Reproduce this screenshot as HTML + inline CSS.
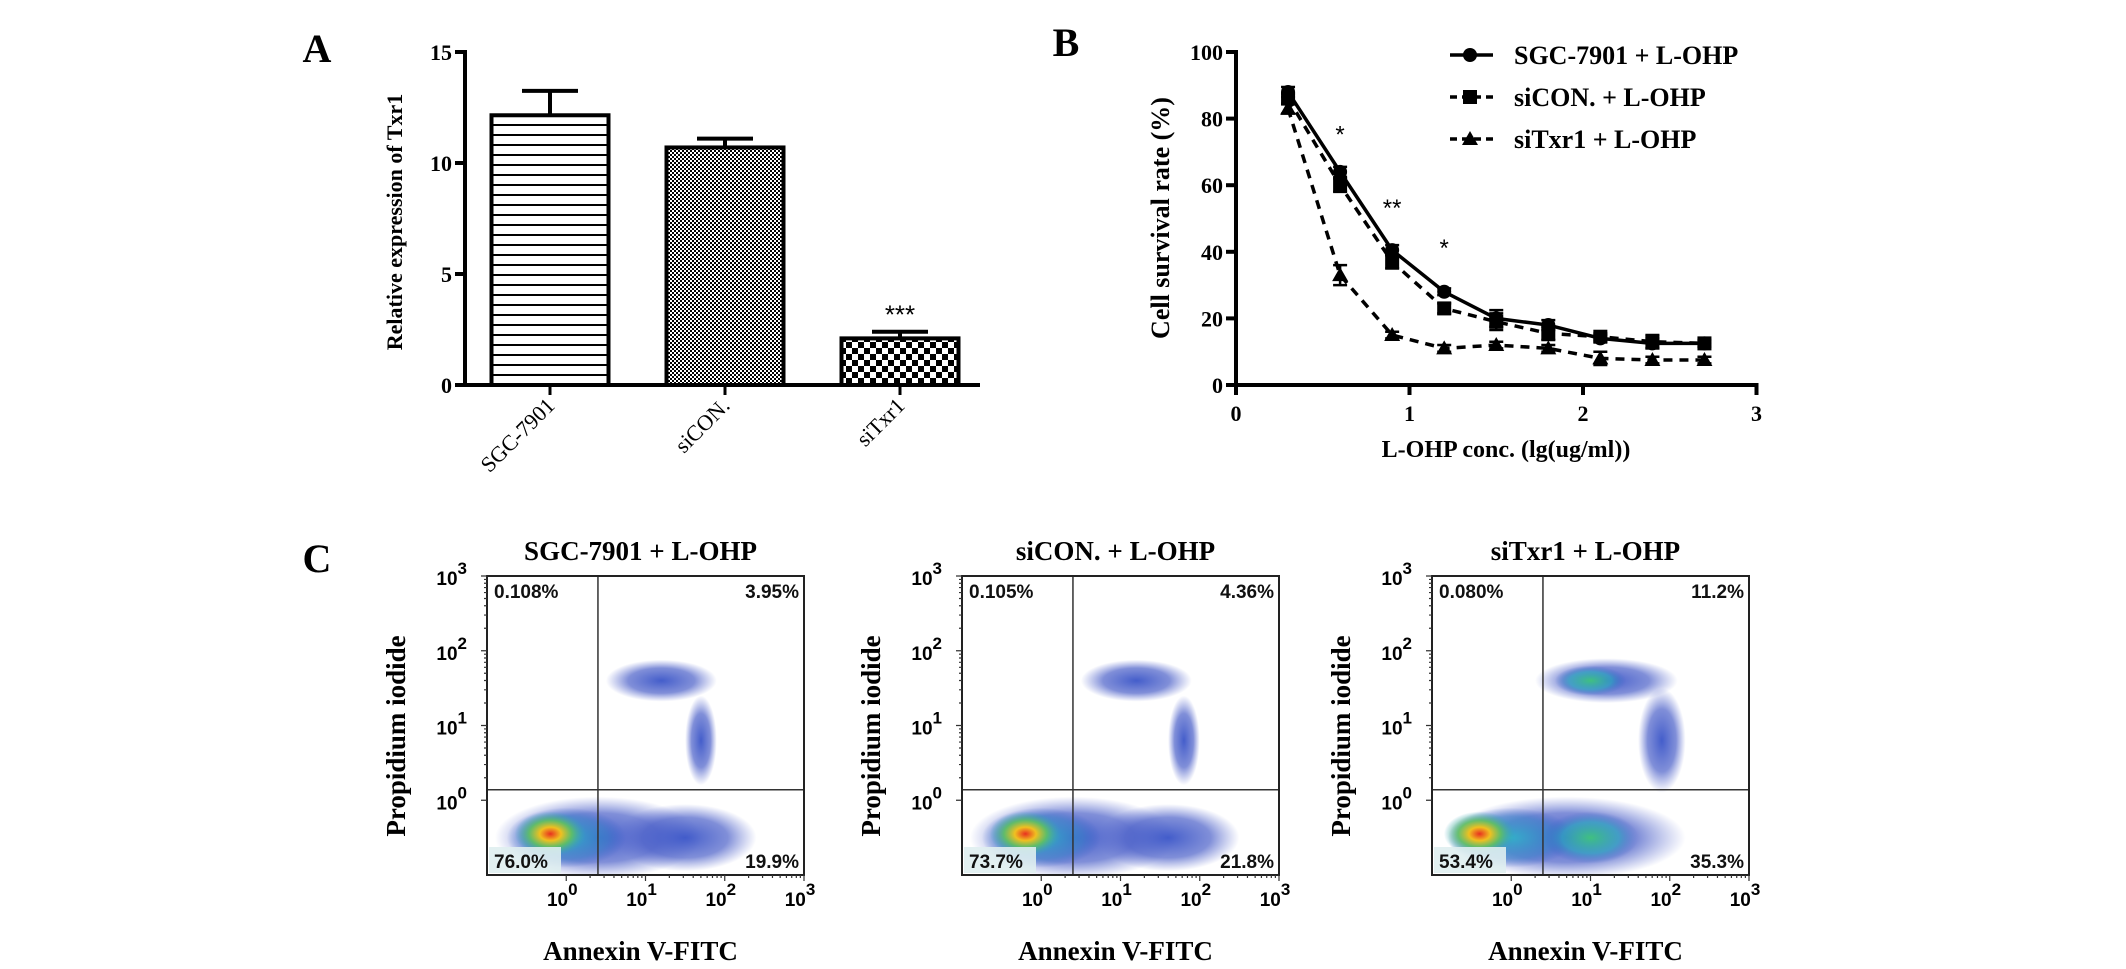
<!DOCTYPE html>
<html><head><meta charset="utf-8">
<style>
html,body{margin:0;padding:0;background:#fff;}
svg{display:block;}
.serif{font-family:"Liberation Serif",serif;}
.sans{font-family:"Liberation Sans",sans-serif;}
</style></head>
<body>
<svg id="fig" width="2126" height="969" viewBox="0 0 2126 969" xmlns="http://www.w3.org/2000/svg">
<defs>
<pattern id="pHoriz" width="10" height="10" patternUnits="userSpaceOnUse"><rect width="10" height="10" fill="#fff"/><rect y="4" width="10" height="2" fill="#000"/></pattern>
<pattern id="pFine" width="4" height="4" patternUnits="userSpaceOnUse"><rect width="4" height="4" fill="#fff"/><rect width="2" height="2" fill="#000"/><rect x="2" y="2" width="2" height="2" fill="#000"/></pattern>
<pattern id="pCoarse" width="12" height="12" patternUnits="userSpaceOnUse"><rect width="12" height="12" fill="#fff"/><rect width="6" height="6" fill="#000"/><rect x="6" y="6" width="6" height="6" fill="#000"/></pattern>
<radialGradient id="gBlue"><stop offset="0" stop-color="#3a55c8" stop-opacity="0.95"/><stop offset="0.6" stop-color="#4a5fc8" stop-opacity="0.7"/><stop offset="1" stop-color="#6070d0" stop-opacity="0"/></radialGradient>
<radialGradient id="gCyan"><stop offset="0" stop-color="#30b0c8" stop-opacity="0.95"/><stop offset="0.7" stop-color="#3a80c8" stop-opacity="0.6"/><stop offset="1" stop-color="#3a60c8" stop-opacity="0"/></radialGradient>
<radialGradient id="gHot"><stop offset="0" stop-color="#e83020"/><stop offset="0.3" stop-color="#f0c020"/><stop offset="0.6" stop-color="#60c060" stop-opacity="0.9"/><stop offset="1" stop-color="#30a0c0" stop-opacity="0"/></radialGradient>
<radialGradient id="gGreen"><stop offset="0" stop-color="#40c080"/><stop offset="0.6" stop-color="#30a8c0" stop-opacity="0.7"/><stop offset="1" stop-color="#3a60c8" stop-opacity="0"/></radialGradient>
</defs>
</svg>
<script>
// ---------- Panel A data ----------
const barCategories = ["SGC-7901", "siCON.", "siTxr1"];
const barValues = [12.15, 10.7, 2.1];
const barErrors = [1.1, 0.4, 0.3];
const barPatterns = ["pHoriz", "pFine", "pCoarse"];
const yTicksA = [0, 5, 10, 15];
// ---------- Panel B data ----------
const doseX = [0.3, 0.6, 0.9, 1.2, 1.5, 1.8, 2.1, 2.4, 2.7];
const survSGC = [88, 64, 40.5, 28, 20, 18, 14, 12.5, 12.5];
const survSiCON = [86, 60, 37, 23, 19, 15.5, 14.5, 13, 12.5];
const survSiTxr1 = [83, 33, 15, 11, 12, 11, 8, 7.5, 7.5];
const errSGC = [1.5, 1.5, 1.5, 1, 2.5, 1.5, 1, 1.5, 1];
const errSiCON = [1.5, 2, 2, 1.5, 2.5, 2, 1, 2, 1];
const errSiTxr1 = [1.5, 3, 1, 1, 1, 1, 2, 1, 1];
const yTicksB = [0, 20, 40, 60, 80, 100];
const xTicksB = [0, 1, 2, 3];
const starX = [0.6, 0.9, 1.2];
const starY = [77, 55, 43];
const starText = ["*", "**", "*"];
// ---------- Panel C data ----------
const flowTitles = ["SGC-7901 + L-OHP", "siCON. + L-OHP", "siTxr1 + L-OHP"];
const pctUL = ["0.108%", "0.105%", "0.080%"];
const pctUR = ["3.95%", "4.36%", "11.2%"];
const pctLL = ["76.0%", "73.7%", "53.4%"];
const pctLR = ["19.9%", "21.8%", "35.3%"];
// clusters: [x decade, y decade, spread x (decades), spread y (decades), gradient]
const clusters1 = [[0.4,-0.5,1.3,0.55,"gBlue"],[1.5,-0.5,0.9,0.45,"gBlue"],[0.0,-0.5,0.75,0.4,"gCyan"],[-0.2,-0.45,0.45,0.3,"gHot"],[1.2,1.6,0.7,0.28,"gBlue"],[1.7,0.8,0.2,0.6,"gBlue"]];
const clusters2 = [[0.4,-0.5,1.3,0.55,"gBlue"],[1.6,-0.5,0.9,0.45,"gBlue"],[0.0,-0.5,0.75,0.4,"gCyan"],[-0.2,-0.45,0.45,0.3,"gHot"],[1.2,1.6,0.7,0.28,"gBlue"],[1.8,0.8,0.2,0.6,"gBlue"]];
const clusters3 = [[0.7,-0.5,1.5,0.55,"gBlue"],[0.0,-0.5,0.8,0.4,"gCyan"],[-0.4,-0.45,0.45,0.3,"gHot"],[1.0,-0.5,0.6,0.35,"gGreen"],[1.2,1.6,0.9,0.3,"gBlue"],[1.0,1.6,0.45,0.2,"gGreen"],[1.9,0.8,0.3,0.7,"gBlue"]];
const flowClusters = [clusters1, clusters2, clusters3];

const NS = "http://www.w3.org/2000/svg";
const svg = document.getElementById("fig");
function mk(tag, attrs, parent, text){
  const e = document.createElementNS(NS, tag);
  for (const k in attrs) e.setAttribute(k, attrs[k]);
  if (text !== undefined) e.textContent = text;
  (parent || svg).appendChild(e);
  return e;
}
const SERIF = '"Liberation Serif", serif';
const SANS = '"Liberation Sans", sans-serif';

// ================= Panel A =================
const gA = mk("g", {});


let t = mk("text", {x:317, y:62, "font-family":SERIF, "font-size":40, "font-weight":"bold", "text-anchor":"middle"}, gA, "A");


const A_X0 = 465, A_Y0 = 385, A_YTOP = 52, A_MAX = 15;
function yA(v){ return A_Y0 - (v / A_MAX) * (A_Y0 - A_YTOP); }
const barCenters = [550, 726, 900];
function xA(i){ return 550 + i * 175; }
const barW = 117;
barCategories.forEach((c, i) => {
  const cx = xA(i), top = yA(barValues[i]);
  const r = mk("rect", {x:cx-barW/2, y:top, width:barW, height:A_Y0-top, fill:"url(#"+barPatterns[i]+")", stroke:"#000", "stroke-width":4}, gA);
  
  
  const ey = yA(barValues[i] + barErrors[i]);
  const eb = mk("path", {d:`M${cx},${top} V${ey} M${cx-28},${ey} H${cx+28}`, stroke:"#000", "stroke-width":4, fill:"none"}, gA);
  
  
  const tk = mk("line", {x1:cx, y1:A_Y0, x2:cx, y2:A_Y0+10, stroke:"#000", "stroke-width":3}, gA);
  
  
  const lb = mk("text", {x:cx+6, y:A_Y0+22, "font-family":SERIF, "font-size":22, "text-anchor":"end", transform:`rotate(-45 ${cx+6} ${A_Y0+22})`}, gA, c);
  
  
});
t = mk("text", {x:xA(2), y:yA(barValues[2]+barErrors[2])-8, "font-family":SANS, "font-size":26, "text-anchor":"middle"}, gA, "***");


let ax = mk("path", {d:`M${A_X0},${A_YTOP-2} V${A_Y0} H980`, stroke:"#000", "stroke-width":4, fill:"none"}, gA);


yTicksA.forEach(v => {
  const y = yA(v);
  const tk = mk("line", {x1:A_X0-10, y1:y, x2:A_X0, y2:y, stroke:"#000", "stroke-width":4}, gA);
  
  
  const lb = mk("text", {x:A_X0-13, y:y+8, "font-family":SERIF, "font-size":22, "font-weight":"bold", "text-anchor":"end"}, gA, String(v));
  
  
});
t = mk("text", {x:397, y:222, "font-family":SERIF, "font-size":22, "font-weight":"bold", "text-anchor":"middle", transform:"rotate(-90 397 222)", "dominant-baseline":"middle"}, gA, "Relative expression of Txr1");



// ================= Panel B =================
const gB = mk("g", {});


t = mk("text", {x:1066, y:56, "font-family":SERIF, "font-size":40, "font-weight":"bold", "text-anchor":"middle"}, gB, "B");


const B_X0 = 1236, B_UNIT = 173.5, B_Y0 = 385, B_YTOP = 52;
function xB(v){ return B_X0 + v * B_UNIT; }
function yB(v){ return B_Y0 - v / 100 * (B_Y0 - B_YTOP); }
ax = mk("path", {d:`M${B_X0},${B_YTOP-2} V${B_Y0} H${xB(3)+2}`, stroke:"#000", "stroke-width":4, fill:"none"}, gB);


yTicksB.forEach(v => {
  const y = yB(v);
  const tk = mk("line", {x1:B_X0-10, y1:y, x2:B_X0, y2:y, stroke:"#000", "stroke-width":4}, gB);
  
  
  const lb = mk("text", {x:B_X0-13, y:y+8, "font-family":SERIF, "font-size":22, "font-weight":"bold", "text-anchor":"end"}, gB, String(v));
  
  
});
xTicksB.forEach(v => {
  const x = xB(v);
  const tk = mk("line", {x1:x, y1:B_Y0, x2:x, y2:B_Y0+10, stroke:"#000", "stroke-width":4}, gB);
  
  
  const lb = mk("text", {x:x, y:B_Y0+36, "font-family":SERIF, "font-size":22, "font-weight":"bold", "text-anchor":"middle"}, gB, String(v));
  
  
});
t = mk("text", {x:1163, y:218, "font-family":SERIF, "font-size":26, "font-weight":"bold", "text-anchor":"middle", "dominant-baseline":"middle", transform:"rotate(-90 1163 218)"}, gB, "Cell survival rate (%)");


t = mk("text", {x:1506, y:457, "font-family":SERIF, "font-size":24, "font-weight":"bold", "text-anchor":"middle"}, gB, "L-OHP conc. (lg(ug/ml))");



function marker(g, type, x, y){
  let m;
  if (type === "circle") m = mk("circle", {cx:x, cy:y, r:7, fill:"#000"}, g);
  else if (type === "square") m = mk("rect", {x:x-7, y:y-7, width:14, height:14, fill:"#000"}, g);
  else m = mk("path", {d:`M${x},${y-8} L${x+8},${y+6} L${x-8},${y+6} Z`, fill:"#000"}, g);
  return m;
}
const seriesList = [
  {name:"SGC-7901 + L-OHP", vals:survSGC, errs:errSGC, m:"circle", dash:"none", id:"sgc"},
  {name:"siCON. + L-OHP", vals:survSiCON, errs:errSiCON, m:"square", dash:"9 7", id:"sicon"},
  {name:"siTxr1 + L-OHP", vals:survSiTxr1, errs:errSiTxr1, m:"triangle", dash:"9 7", id:"sitxr1"}
];
seriesList.forEach((s, si) => {
  const g = mk("g", {}, gB);
  
  
  const d = doseX.map((x, i) => (i ? "L" : "M") + xB(x) + "," + yB(s.vals[i])).join(" ");
  const ln = mk("path", {d:d, fill:"none", stroke:"#000", "stroke-width":3.5, "stroke-dasharray":s.dash}, g);
  
  
  doseX.forEach((x, i) => {
    const px = xB(x), py = yB(s.vals[i]);
    const e1 = yB(s.vals[i] + s.errs[i]), e2 = yB(s.vals[i] - s.errs[i]);
    const eb = mk("path", {d:`M${px},${e1} V${e2} M${px-7},${e1} H${px+7} M${px-7},${e2} H${px+7}`, stroke:"#000", "stroke-width":2.5}, g);
    
    
    const m = marker(g, s.m, px, py);
    
    
  });
  // legend
  const ly = 55 + si * 42;
  const lg = mk("g", {}, gB);
  
  
  mk("line", {x1:1450, y1:ly, x2:1493, y2:ly, stroke:"#000", "stroke-width":3.5, "stroke-dasharray":s.dash === "none" ? "none" : "7 5"}, lg);
  marker(lg, s.m, 1470, ly);
  mk("text", {x:1514, y:ly+9, "font-family":SERIF, "font-size":26, "font-weight":"bold"}, lg, s.name);
});
starX.forEach((x, i) => {
  const st = mk("text", {x:xB(x), y:yB(starY[i])+14, "font-family":SANS, "font-size":24, "text-anchor":"middle"}, gB, starText[i]);
  
  
});

// ================= Panel C =================
const gC = mk("g", {});


t = mk("text", {x:317, y:572, "font-family":SERIF, "font-size":40, "font-weight":"bold", "text-anchor":"middle"}, gC, "C");


const plotLefts = [487, 962, 1432];
const P_TOP = 576, P_W = 317, P_H = 299;
flowTitles.forEach((title, pi) => {
  const L = plotLefts[pi];
  const g = mk("g", {}, gC);
  
  
  // decade -> px; x: 10^0 at 0.25 of width, 10^3 at 1.0 ; y: 10^0 at 0.75 from top, 10^3 at 0
  const fx = d => L + (0.25 + d * 0.25) * P_W;
  const fy = d => P_TOP + (0.75 - d * 0.25) * P_H;
  const clip = "clip" + pi;
  const cp = mk("clipPath", {id:clip}, g);
  mk("rect", {x:L, y:P_TOP, width:P_W, height:P_H}, cp);
  const cg = mk("g", {"clip-path":"url(#"+clip+")"}, g);
  
  
  flowClusters[pi].forEach(c => {
    const el = mk("ellipse", {cx:fx(c[0]), cy:fy(c[1]), rx:c[2]*0.25*P_W, ry:c[3]*0.25*P_H, fill:"url(#"+c[4]+")"}, cg);
    
    
  });
  const qx = L + 0.35 * P_W, qy = P_TOP + 0.715 * P_H;
  const q = mk("path", {d:`M${qx},${P_TOP} V${P_TOP+P_H} M${L},${qy} H${L+P_W}`, stroke:"#333", "stroke-width":1.5}, g);
  
  
  const fr = mk("rect", {x:L, y:P_TOP, width:P_W, height:P_H, fill:"none", stroke:"#222", "stroke-width":2}, g);
  
  
  // ticks
  let tp = "";
  for (let d = 0; d < 3; d++) for (let k = 1; k < 10; k++) {
    const v = d + Math.log10(k);
    const len = k === 1 ? 6 : 3;
    tp += `M${fx(v)},${P_TOP+P_H} V${P_TOP+P_H+len} M${L},${fy(v)} H${L-len} `;
  }
  tp += `M${fx(3)},${P_TOP+P_H} V${P_TOP+P_H+6} M${L},${fy(3)} H${L-6}`;
  const tk = mk("path", {d:tp, stroke:"#333", "stroke-width":1.2, fill:"none"}, g);
  
  
  for (let d = 0; d <= 3; d++) {
    const xl = mk("text", {x:fx(d)-4, y:P_TOP+P_H+31, "font-family":SANS, "font-size":19, "font-weight":"bold", "text-anchor":"middle"}, g);
    
    
    xl.textContent = "10";
    mk("tspan", {dy:-11, "font-size":17}, xl, String(d));
    const yl = mk("text", {x:L-20, y:fy(d)+9, "font-family":SANS, "font-size":19, "font-weight":"bold", "text-anchor":"end"}, g);
    
    
    yl.textContent = "10";
    mk("tspan", {dy:-11, "font-size":17}, yl, String(d));
  }
  const tt = mk("text", {x:L+P_W/2-5, y:P_TOP-16, "font-family":SERIF, "font-size":27, "font-weight":"bold", "text-anchor":"middle"}, g, title);
  
  
  const xt = mk("text", {x:L+P_W/2-5, y:P_TOP+P_H+85, "font-family":SERIF, "font-size":27, "font-weight":"bold", "text-anchor":"middle"}, g, "Annexin V-FITC");
  
  
  const yx = L - 88, yy = P_TOP + 160;
  const yt = mk("text", {x:yx, y:yy, "font-family":SERIF, "font-size":27, "font-weight":"bold", "text-anchor":"middle", "dominant-baseline":"middle", transform:`rotate(-90 ${yx} ${yy})`}, g, "Propidium iodide");
  
  
  const bg = mk("rect", {x:L+2, y:P_TOP+P_H-28, width:72, height:26, fill:"#dfeef0", opacity:0.9}, g);
  
  
  const labels = [[pctUL[pi], L+7, P_TOP+22, "start", "ul"], [pctUR[pi], L+P_W-5, P_TOP+22, "end", "ur"], [pctLL[pi], L+7, P_TOP+P_H-7, "start", "ll"], [pctLR[pi], L+P_W-5, P_TOP+P_H-7, "end", "lr"]];
  labels.forEach(l => {
    const pl = mk("text", {x:l[1], y:l[2], "font-family":SANS, "font-size":19, "font-weight":"bold", "text-anchor":l[3], fill:"#111"}, g, l[0]);
    
    
  });
});
</script>
</body></html>
